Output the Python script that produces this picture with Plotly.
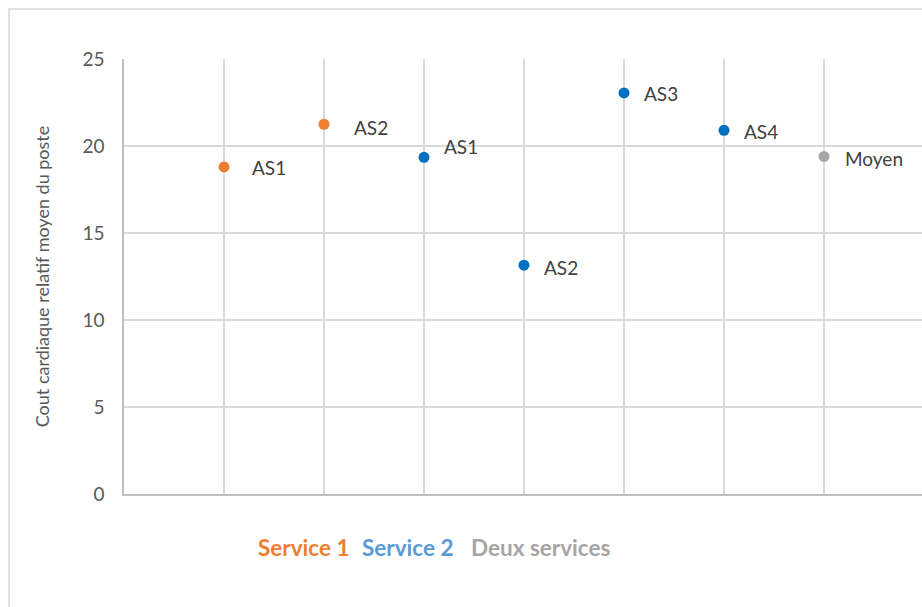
import plotly.graph_objects as go

# Data
s1_x = [1, 2]
s1_y = [18.8, 21.25]
s1_labels = ["AS1", "AS2"]
s2_x = [3, 4, 5, 6]
s2_y = [19.35, 13.15, 23.05, 20.9]
s2_labels = ["AS1", "AS2", "AS3", "AS4"]
avg_x = [7]
avg_y = [19.4]
avg_labels = ["Moyen"]
legend_names = ["Service 1", "Service 2", "Deux services"]
y_ticks = [0, 5, 10, 15, 20, 25]

ORANGE = "#ED7D31"
BLUE = "#0070C0"
GRAY = "#A5A5A5"
FONT = "Lato, 'Open Sans', sans-serif"
TXT = "#404040"

fig = go.Figure()
fig.add_trace(go.Scatter(x=s1_x, y=s1_y, mode="markers", marker=dict(color=ORANGE, size=11), name=legend_names[0]))
fig.add_trace(go.Scatter(x=s2_x, y=s2_y, mode="markers", marker=dict(color=BLUE, size=11), name=legend_names[1]))
fig.add_trace(go.Scatter(x=avg_x, y=avg_y, mode="markers", marker=dict(color=GRAY, size=11), name=legend_names[2]))

annotations = []

def add_labels(xs, ys, labels, shifts):
    for xv, yv, lab, (dx, dy) in zip(xs, ys, labels, shifts):
        annotations.append(dict(x=xv, y=yv, xref="x", yref="y", text=lab, showarrow=False,
                                xanchor="left", yanchor="middle", xshift=dx, yshift=dy,
                                font=dict(family=FONT, size=19, color=TXT)))

add_labels(s1_x, s1_y, s1_labels, [(26, -1), (28, -3)])
add_labels(s2_x, s2_y, s2_labels, [(18, 11), (18, -2), (18, -1), (18, -1)])
add_labels(avg_x, avg_y, avg_labels, [(19, -2)])

# legend-like colored text
leg_x = [1.32, 2.36, 3.45]
leg_colors = [ORANGE, "#5B9BD5", GRAY]
for lx, name, col in zip(leg_x, legend_names, leg_colors):
    annotations.append(dict(x=lx, y=-0.122, xref="x", yref="paper", text="<b>" + name + "</b>",
                            showarrow=False, xanchor="left", yanchor="middle",
                            font=dict(family=FONT, size=22.5, color=col)))

fig.update_layout(
    width=922, height=607,
    margin=dict(l=124, r=0, t=59, b=113),
    paper_bgcolor="white", plot_bgcolor="white",
    showlegend=False,
    annotations=annotations,
    shapes=[dict(type="rect", xref="paper", yref="paper",
                 x0=(9 - 124) / 798, x1=1.05, y0=-0.4, y1=(494 - 9) / 435,
                 line=dict(color="#D9D9D9", width=1.5), fillcolor="rgba(0,0,0,0)", layer="below")],
    xaxis=dict(range=[0, 7.98], tickvals=[1, 2, 3, 4, 5, 6, 7], showticklabels=False,
               showgrid=True, gridcolor="#D9D9D9", gridwidth=1.5, zeroline=False,
               showline=True, linecolor="#BFBFBF", linewidth=1.5, ticks=""),
    yaxis=dict(range=[0, 25], tickvals=y_ticks, showgrid=True, gridcolor="#D9D9D9", gridwidth=1.5,
               zeroline=False, showline=True, linecolor="#BFBFBF", linewidth=1.5,
               ticks="", ticklabelstandoff=14,
               tickfont=dict(family=FONT, size=19, color="#595959"),
               title=dict(text="Cout cardiaque relatif moyen du poste", standoff=28,
                          font=dict(family=FONT, size=18, color="#595959"))),
)

fig.write_html("out.html", config={"displayModeBar": False},
               post_script="document.body.style.margin='0';document.body.style.overflow='hidden';")
